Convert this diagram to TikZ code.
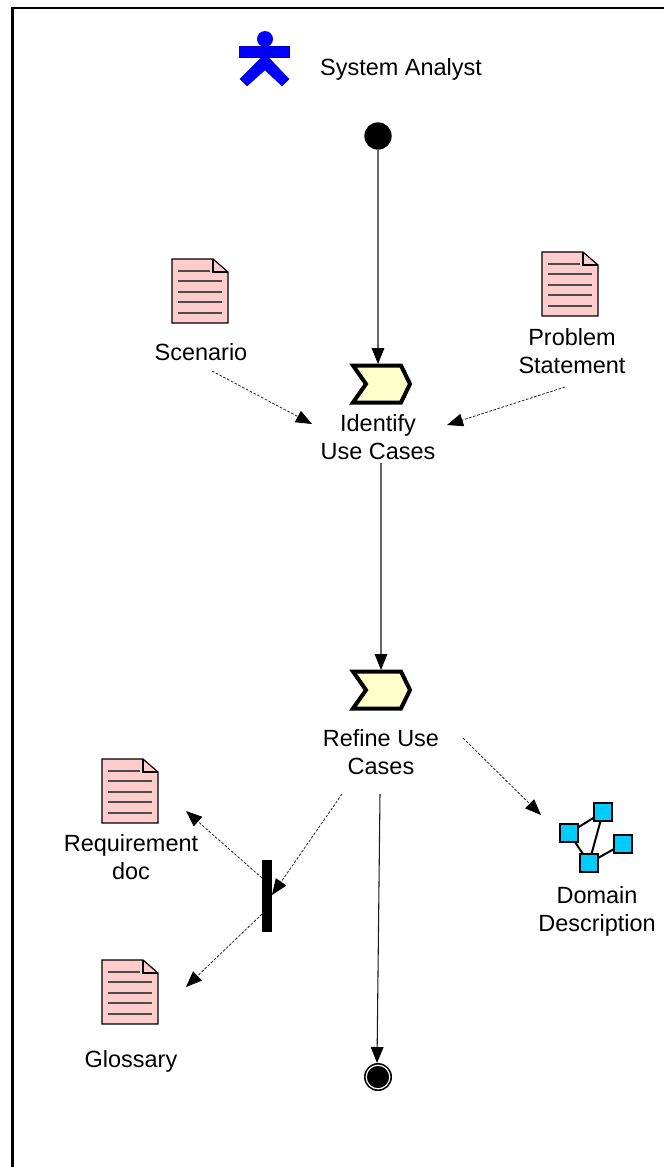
\documentclass[tikz,border=0pt]{standalone}
\usepackage{fontspec}
\setmainfont{Liberation Sans}
\usetikzlibrary{arrows.meta}
\definecolor{docpink}{HTML}{FFCCCC}
\definecolor{stepyellow}{HTML}{FFFFCC}
\definecolor{modelblue}{HTML}{00CCFF}
\tikzset{
    lbl/.style={align=center, inner sep=0pt, anchor=base, font=\fontsize{17.6}{20.7}\selectfont},
    flow/.style={draw=black!60, line width=0.8pt, -{Triangle[length=12pt, width=9.5pt, black]}},
    dep/.style={draw=black!85, line width=0.6pt, dash pattern=on 2pt off 1.2pt, -{Triangle[length=12pt, width=9.5pt, black]}},
    blob/.style={draw=black, line width=1.5pt, fill=modelblue, minimum size=13pt, inner sep=0pt, outer sep=0pt},
    stepmark/.style={minimum width=45.7pt, minimum height=30pt, inner sep=0pt, outer sep=0pt},
}
% document icon, top left corner in #1, #2
\newcommand{\docicon}[2]{
    \begin{scope}[xshift=#1*0.75pt, yshift=-#2*0.75pt]
    \draw[fill=docpink, line width=0.9pt] (0,0) -- (41,0) -- (56,13) -- (56,64) -- (0,64) -- cycle;
    \draw[line width=0.9pt] (41,0) -- (41,13) -- (56,13);
    \draw[black!70, line width=0.8pt] (6,12) -- (38,12);
    \draw[black!70, line width=0.8pt] (6,22) -- (50,22);
    \draw[black!70, line width=0.8pt] (6,33) -- (50,33);
    \draw[black!70, line width=0.8pt] (6,43) -- (50,43);
    \draw[black!70, line width=0.8pt] (6,54) -- (50,54);
    \end{scope}
}
% process chevron around its centre
\newcommand{\stepicon}[2]{
    \begin{scope}[xshift=#1*0.75pt, yshift=-#2*0.75pt]
    \draw[fill=stepyellow, line width=3pt, line join=miter] (-28,-18.5) -- (20,-18.5) -- (29,0) -- (20,18.5) -- (-28,18.5) -- (-15,0) -- cycle;
    \end{scope}
}
\begin{document}
\begin{tikzpicture}[x=0.75pt, y=-0.75pt]
    \useasboundingbox (0,0) rectangle (664,1167);
    % frame
    \draw[line width=2pt] (12.5,1167) -- (12.5,8) -- (664,8);
    % actor
    \fill[blue] (265,39) circle (8);
    \draw[blue!75!black, line width=0.3pt, fill=blue] (239.5,46) rectangle (289,57);
    \draw[blue!75!black, line width=0.3pt, fill=blue] (262,57) -- (240,79) -- (247,86) -- (265,70) -- (282,86) -- (289,79) -- (268,57) -- cycle;
    \node[lbl] (analyst) at (401,75) {System Analyst};
    % start, end
    \node[circle, fill=black, minimum size=20.5pt, inner sep=0pt, outer sep=0pt] (start) at (378,136) {};
    \node[circle, fill=black, minimum size=21pt, inner sep=0pt, outer sep=0pt] (finish) at (378,1077) {};
    \fill[white, even odd rule] (finish) circle (12.4) circle (11.2);
    % documents
    \docicon{172}{259}
    \docicon{542}{252}
    \docicon{102}{759}
    \docicon{102}{960}
    \node[lbl] (scenario) at (201,360) {Scenario};
    \node[lbl] (problem) at (572,373) {Problem\\Statement};
    \node[lbl] (reqdoc) at (131,879) {Requirement\\doc};
    \node[lbl] (glossary) at (131,1067) {Glossary};
    % steps
    \stepicon{381}{384}
    \stepicon{381}{690}
    \node[stepmark] (identifymark) at (378,384) {};
    \node[stepmark] (refinemark) at (381,690) {};
    \node[lbl] (identify) at (378,459) {Identify\\Use Cases};
    \node[lbl] (refine) at (381,774) {Refine Use\\Cases};
    % fork bar
    \node[fill=black, minimum width=7.5pt, minimum height=54pt, inner sep=0pt, outer sep=0pt] (bar) at (267,896) {};
    % domain model
    \node[blob] (m1) at (569,833) {};
    \node[blob] (m2) at (603,812) {};
    \node[blob] (m3) at (589,863) {};
    \node[blob] (m4) at (623,844) {};
    \draw[line width=1.5pt] (m1) -- (m2);
    \draw[line width=1.5pt] (m1) -- (m3);
    \draw[line width=1.5pt] (m2) -- (m3);
    \draw[line width=1.5pt] (m3) -- (m4);
    \node[lbl] (domain) at (597,931) {Domain\\Description};
    % free ends of the arrows
    \coordinate (c1) at (212,371);
    \coordinate (c2) at (312,424);
    \coordinate (c3) at (565,387);
    \coordinate (c4) at (447,425);
    \coordinate (c5) at (381,463);
    \coordinate (c6) at (381,670);
    \coordinate (c7) at (463,738);
    \coordinate (c8) at (541,815);
    \coordinate (c9) at (342,794);
    \coordinate (c10) at (272,895);
    \coordinate (c11) at (262,878);
    \coordinate (c12) at (186,811);
    \coordinate (c13) at (262,914);
    \coordinate (c14) at (186,987);
    \coordinate (c15) at (380,794);
    \coordinate (c16) at (377,1063);
    % arrows
    \draw[flow] (start) -- (identifymark);
    \draw[flow] (c5) -- (c6);
    \draw[flow, draw=black!90] (c15) -- (c16);
    \draw[dep] (c1) -- (c2);
    \draw[dep] (c3) -- (c4);
    \draw[dep] (c7) -- (c8);
    \draw[dep] (c9) -- (c10);
    \draw[dep] (c11) -- (c12);
    \draw[dep] (c13) -- (c14);
\end{tikzpicture}
\end{document}
